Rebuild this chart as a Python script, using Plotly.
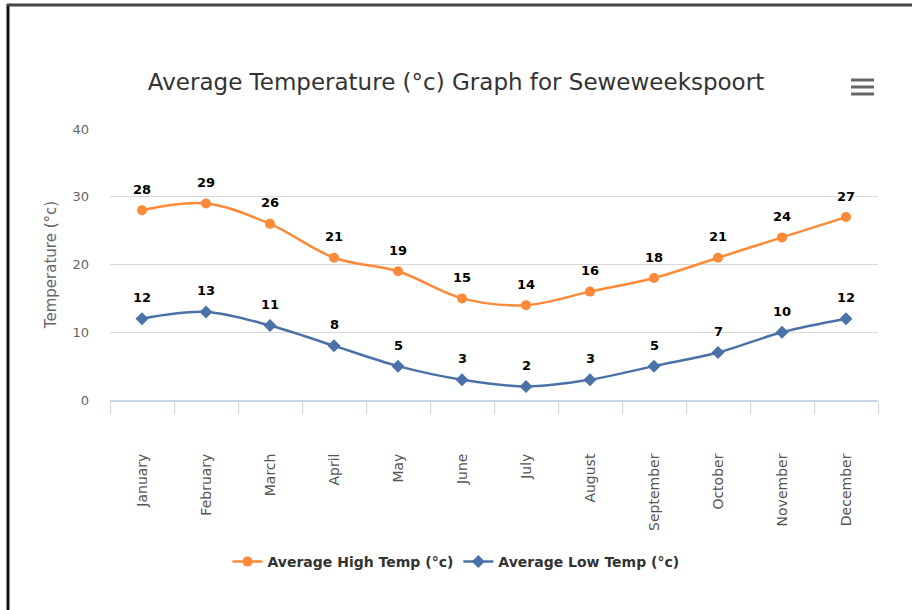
import plotly.graph_objects as go

months = ["January", "February", "March", "April", "May", "June", "July",
          "August", "September", "October", "November", "December"]
high_temp = [28, 29, 26, 21, 19, 15, 14, 16, 18, 21, 24, 27]
low_temp = [12, 13, 11, 8, 5, 3, 2, 3, 5, 7, 10, 12]

ORANGE = "#fd8a38"
BLUE = "#4a72a8"
FONT = "DejaVu Sans"

fig = go.Figure()
annotations = []
for name, vals, color, sym in [
    ("Average High Temp (°c)", high_temp, ORANGE, "circle"),
    ("Average Low Temp (°c)", low_temp, BLUE, "diamond"),
]:
    fig.add_trace(go.Scatter(
        x=months, y=vals, name=name,
        mode="lines+markers",
        line=dict(color=color, width=2.5, shape="spline"),
        marker=dict(color=color, symbol=sym, size=10),
        cliponaxis=False,
    ))
    for m, v in zip(months, vals):
        annotations.append(dict(
            x=m, y=v, xref="x", yref="y", text=str(v), showarrow=False,
            yshift=21, font=dict(family=FONT, size=13, color="#000", weight="bold",
                                 shadow="0px 0px 2px white"),
        ))

W, H = 912, 610
L, R, T, B = 110, 878, 129, 400

def px(x):
    return (x - L) / (R - L)

def py(y):
    return (B - y) / (B - T)

shapes = [
    dict(type="line", xref="paper", yref="paper", x0=px(8), x1=px(8), y0=py(4), y1=py(612),
         line=dict(color="#111", width=3)),
    dict(type="line", xref="paper", yref="paper", x0=px(7), x1=px(914), y0=py(5), y1=py(5),
         line=dict(color="#444", width=3)),
]
for yb in [80, 87, 94]:
    shapes.append(dict(type="line", xref="paper", yref="paper", x0=px(851), x1=px(874),
                       y0=py(yb), y1=py(yb), line=dict(color="#666", width=3)))

fig.update_layout(
    width=W, height=H,
    margin=dict(l=L, r=W - R, t=T, b=H - B),
    paper_bgcolor="white", plot_bgcolor="white",
    font=dict(family=FONT, color="#666"),
    title=dict(text="Average Temperature (°c) Graph for Seweweekspoort",
               x=0.5, xref="container", xanchor="center",
               y=1 - 82 / H, yref="container", yanchor="middle",
               font=dict(family=FONT, size=23, color="#333")),
    xaxis=dict(
        type="category", tickangle=-90, tickson="boundaries",
        ticks="outside", ticklen=12, tickcolor="#c8d6e6", tickwidth=1,
        showline=True, linecolor="#c8d6e6", linewidth=2,
        showgrid=False, ticklabelstandoff=46,
        tickfont=dict(family=FONT, size=14, color="#555"),
        range=[-0.5, 11.5],
    ),
    yaxis=dict(
        range=[0, 40], dtick=10, showgrid=True, gridcolor="#d8d8d8", gridwidth=1,
        zeroline=False, showline=False,
        tickfont=dict(family=FONT, size=13, color="#666"),
        ticklabelstandoff=20,
        title=dict(text="Temperature (°c)", font=dict(family=FONT, size=15, color="#666"),
                   standoff=12),
    ),
    legend=dict(
        orientation="h", x=0.5, xref="container", xanchor="center",
        y=1 - 562 / H, yref="container", yanchor="middle",
        font=dict(family=FONT, size=14, color="#333", weight="bold"),
        itemwidth=30,
    ),
    annotations=annotations,
    shapes=shapes,
    showlegend=True,
)

fig.write_html("out.html", config={"displayModeBar": False},
               post_script="document.body.style.margin='0px';")
